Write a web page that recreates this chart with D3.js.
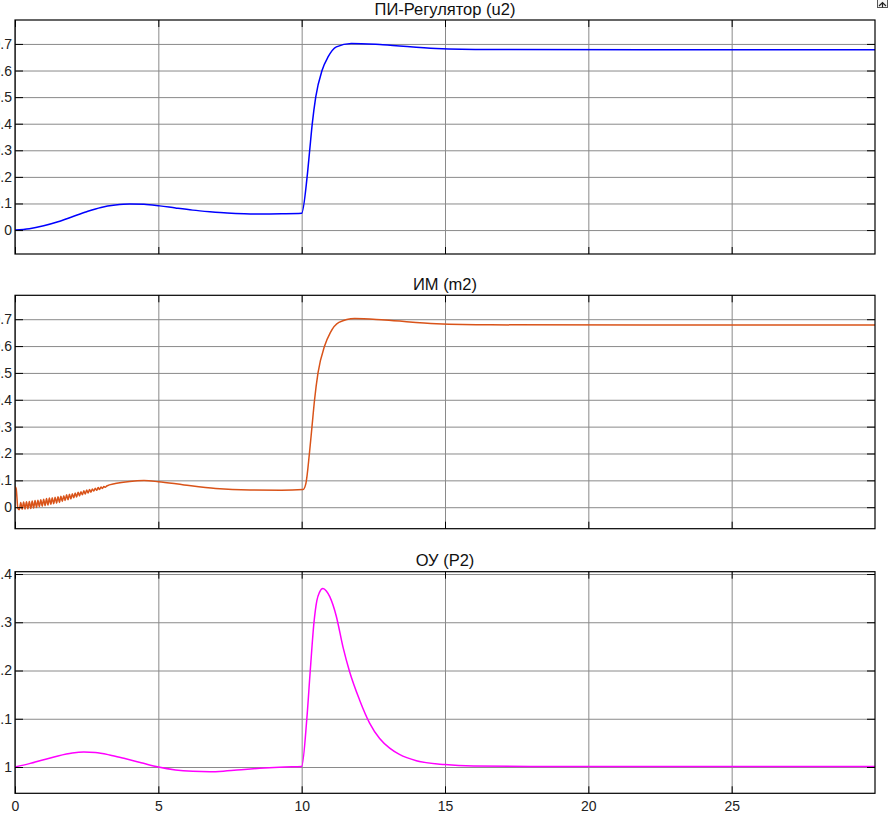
<!DOCTYPE html>
<html>
<head>
<meta charset="utf-8">
<script src="https://cdn.jsdelivr.net/npm/d3@7"></script>
<style>
  html, body { margin: 0; padding: 0; background: #fff; }
  svg { display: block; font-family: "Liberation Sans", Arial, sans-serif; }
</style>
</head>
<body>
<svg id="chart" width="889" height="814"></svg>
<script>
// ---- data ----
const xTicks = [0, 5, 10, 15, 20, 25];
const yTicksU = [0, 0.1, 0.2, 0.3, 0.4, 0.5, 0.6, 0.7];
const yTicksP = [1, 1.1, 1.2, 1.3, 1.4];
const titles = ["ПИ-Регулятор (u2)", "ИМ (m2)", "ОУ (P2)"];

const u2Data = [
  [0,0],[0.5,0.005],[1.0,0.016],[1.5,0.031],[2.0,0.050],[2.5,0.069],[3.0,0.085],[3.5,0.094],
  [4.0,0.098],[4.5,0.097],[5.05,0.091],[5.6,0.083],[6.2,0.075],[6.8,0.069],[7.4,0.064],
  [8.0,0.061],[8.6,0.060],[9.3,0.061],[10.0,0.063],
  [10.19,0.2],[10.28,0.3],[10.37,0.4],[10.49,0.5],[10.71,0.6],[10.92,0.651],[11.21,0.689],
  [11.73,0.702],[12.83,0.697],[14.69,0.683],[16.55,0.679],[22,0.678],[30,0.678]
];

const m2Data = [
  [0,0.077],[0.04,0.07],[0.1,-0.004],
  [0.15,-0.009],[0.20,0.018],[0.25,-0.008],[0.30,0.019],[0.35,-0.007],[0.40,0.020],
  [0.45,-0.006],[0.50,0.021],[0.55,-0.005],[0.60,0.023],[0.65,-0.003],[0.70,0.025],
  [0.75,-0.001],[0.80,0.026],[0.85,0.002],[0.90,0.028],[0.95,0.004],[1.00,0.030],
  [1.05,0.006],[1.10,0.032],[1.15,0.008],[1.20,0.034],[1.25,0.011],[1.30,0.035],
  [1.35,0.013],[1.40,0.037],[1.45,0.015],[1.50,0.039],[1.55,0.018],[1.60,0.041],
  [1.65,0.021],[1.70,0.043],[1.75,0.025],[1.80,0.046],[1.85,0.028],[1.90,0.048],
  [1.95,0.031],[2.00,0.050],[2.05,0.035],[2.10,0.053],[2.15,0.038],[2.20,0.056],
  [2.25,0.042],[2.30,0.058],[2.35,0.046],[2.40,0.061],[2.45,0.049],[2.50,0.064],
  [2.55,0.053],[2.60,0.066],[2.65,0.056],[2.70,0.068],[2.75,0.060],[2.80,0.071],
  [2.85,0.063],[2.90,0.073],[2.95,0.066],[3.00,0.075],[3.05,0.070],[3.10,0.077],
  [3.15,0.074],[3.20,0.079],
  [3.5,0.088],[4.0,0.096],[4.5,0.099],[5.0,0.095],[5.9,0.083],[7.0,0.070],[8.2,0.064],
  [9.3,0.063],[10.05,0.066],[10.15,0.09],[10.27,0.2],[10.36,0.3],[10.45,0.4],[10.57,0.5],
  [10.8,0.6],[11.0,0.65],[11.3,0.688],[11.85,0.703],[12.9,0.697],[14.7,0.683],
  [16.6,0.679],[22,0.678],[30,0.678]
];

const p2Data = [
  [0,1.0],[0.5,1.007],[1.0,1.015],[1.5,1.023],[2.0,1.029],[2.4,1.031],[2.8,1.030],
  [3.3,1.025],[3.8,1.018],[4.4,1.009],[5.0,1.0],[5.6,0.994],[6.2,0.991],[6.8,0.990],
  [7.4,0.992],[8.0,0.995],[8.7,0.998],[9.4,1.0],[10.0,1.001],
  [10.18,1.1],[10.30,1.2],[10.43,1.3],[10.53,1.345],[10.62,1.362],[10.74,1.370],
  [10.86,1.365],[10.98,1.353],[11.21,1.312],[11.44,1.249],[11.67,1.198],[12.02,1.139],
  [12.37,1.091],[12.72,1.059],[13.07,1.039],[13.41,1.026],[14.0,1.013],[15.0,1.005],
  [16.0,1.002],[18,1.001],[30,1.001]
];

// ---- layout ----
const svg = d3.select("#chart");
const W = 889, H = 814;
svg.append("rect").attr("width", W).attr("height", H).attr("fill", "#fff");

const left = 15, right = 875;
const panels = [
  { top: 20, bottom: 254, domain: [-0.09, 0.79], ticks: yTicksU, data: u2Data, color: "#0000ff", title: titles[0], xLabels: false },
  { top: 295.3, bottom: 528.7, domain: [-0.08, 0.789], ticks: yTicksU, data: m2Data, color: "#d95319", title: titles[1], xLabels: false },
  { top: 571.7, bottom: 793.3, domain: [0.9455, 1.4048], ticks: yTicksP, data: p2Data, color: "#ff00ff", title: titles[2], xLabels: true }
];

const x = d3.scaleLinear().domain([0, 30]).range([left, right]);
const fmt = d3.format("");

panels.forEach((p, i) => {
  const y = d3.scaleLinear().domain(p.domain).range([p.bottom, p.top]);
  const g = svg.append("g");
  const w = right - left, h = p.bottom - p.top;

  // grid
  g.append("g").attr("transform", `translate(${left},0)`)
    .call(d3.axisLeft(y).tickValues(p.ticks).tickSize(-w).tickFormat(""))
    .call(a => a.select(".domain").remove())
    .call(a => a.selectAll("line").attr("stroke", "#8a8a8a").attr("stroke-width", 1));
  g.append("g").attr("transform", `translate(0,${p.bottom})`)
    .call(d3.axisBottom(x).tickValues(xTicks).tickSize(-h).tickFormat(""))
    .call(a => a.select(".domain").remove())
    .call(a => a.selectAll("line").attr("stroke", "#8a8a8a").attr("stroke-width", 1));

  // data line
  const clipId = "clip" + i;
  svg.append("clipPath").attr("id", clipId).append("rect")
    .attr("x", left).attr("y", p.top).attr("width", w).attr("height", h);
  g.append("path")
    .datum(p.data)
    .attr("clip-path", `url(#${clipId})`)
    .attr("fill", "none")
    .attr("stroke", p.color)
    .attr("stroke-width", 1.5)
    .attr("stroke-linejoin", "round")
    .attr("d", d3.line().x(d => x(d[0])).y(d => y(d[1])).curve(d3.curveMonotoneX));

  // inner tick marks + labels
  const fontSize = 14;
  g.append("g").attr("transform", `translate(${left},0)`)
    .call(d3.axisLeft(y).tickValues(p.ticks).tickSize(-8).tickPadding(3).tickFormat(fmt))
    .call(a => a.select(".domain").remove())
    .call(a => a.selectAll("line").attr("stroke", "#000"))
    .call(a => a.selectAll("text").attr("font-size", fontSize).attr("fill", "#222")
      .attr("font-family", "'Liberation Sans', Arial, sans-serif"));
  g.append("g").attr("transform", `translate(${right},0)`)
    .call(d3.axisRight(y).tickValues(p.ticks).tickSize(-8).tickFormat(""))
    .call(a => a.select(".domain").remove())
    .call(a => a.selectAll("line").attr("stroke", "#000"));
  g.append("g").attr("transform", `translate(0,${p.top})`)
    .call(d3.axisTop(x).tickValues(xTicks).tickSize(-7).tickFormat(""))
    .call(a => a.select(".domain").remove())
    .call(a => a.selectAll("line").attr("stroke", "#000"));
  const xb = d3.axisBottom(x).tickValues(xTicks).tickSize(-7).tickPadding(8);
  if (!p.xLabels) xb.tickFormat("");
  g.append("g").attr("transform", `translate(0,${p.bottom})`)
    .call(xb)
    .call(a => a.select(".domain").remove())
    .call(a => a.selectAll("line").attr("stroke", "#000"))
    .call(a => a.selectAll("text").attr("font-size", fontSize).attr("fill", "#222")
      .attr("font-family", "'Liberation Sans', Arial, sans-serif"));

  // frame
  g.append("rect").attr("x", left).attr("y", p.top).attr("width", w).attr("height", h)
    .attr("fill", "none").attr("stroke", "#000").attr("stroke-width", 1.2);

  // title
  g.append("text").attr("x", (left + right) / 2).attr("y", p.top - 5.5)
    .attr("text-anchor", "middle").attr("font-size", 16.5).attr("fill", "#111")
    .text(p.title);
});

// small restore icon at top-right
const ic = svg.append("g").attr("transform", "translate(877,0)");
ic.append("rect").attr("x", 0.5).attr("y", -1).attr("width", 10).attr("height", 8.5)
  .attr("fill", "#f4f4f4").attr("stroke", "#555").attr("stroke-width", 1);
ic.append("path").attr("d", "M2,6 L5.5,2.5 L9,6 M5.5,2.5 L5.5,7.5")
  .attr("fill", "none").attr("stroke", "#222").attr("stroke-width", 1.2);
</script>
</body>
</html>
